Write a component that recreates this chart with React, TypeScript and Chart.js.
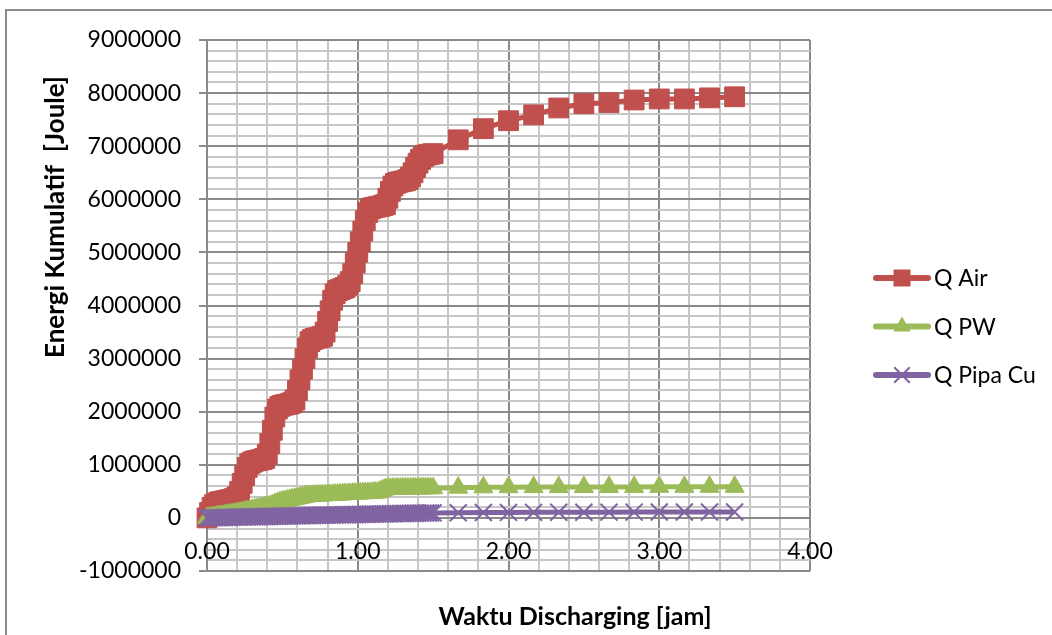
import React, { useEffect, useRef } from 'react';
import { Chart, registerables } from 'chart.js';

Chart.register(...registerables);

// time in minutes from start of discharging
const minutes = [
  0, 1, 2, 3, 4, 5, 6, 7, 8, 9,
  10, 11, 12, 13, 14, 15, 16, 17, 18, 19,
  20, 21, 22, 23, 24, 25, 26, 27, 28, 29,
  30, 31, 32, 33, 34, 35, 36, 37, 38, 39,
  40, 41, 42, 43, 44, 45, 46, 47, 48, 49,
  50, 51, 52, 53, 54, 55, 56, 57, 58, 59,
  60, 61, 62, 63, 64, 65, 66, 67, 68, 69,
  70, 71, 72, 73, 74, 75, 76, 77, 78, 79,
  80, 81, 82, 83, 84, 85, 86, 87, 88, 89,
  90, 100, 110, 120, 130, 140, 150, 160, 170, 180, 190, 200, 210,
];

const qAir = [
  0, 100000, 200000, 250000, 280000, 300000, 310000, 320000, 330000, 340000,
  350000, 370000, 400000, 500000, 650000, 800000, 950000, 1020000, 1050000, 1070000,
  1080000, 1090000, 1100000, 1120000, 1200000, 1400000, 1650000, 1900000, 2050000, 2100000,
  2120000, 2130000, 2140000, 2150000, 2170000, 2220000, 2400000, 2600000, 2800000, 3000000,
  3200000, 3320000, 3360000, 3380000, 3390000, 3400000, 3420000, 3500000, 3700000, 3900000,
  4100000, 4220000, 4280000, 4300000, 4320000, 4340000, 4380000, 4450000, 4600000, 4800000,
  5000000, 5200000, 5400000, 5600000, 5750000, 5820000, 5840000, 5850000, 5860000, 5870000,
  5880000, 5900000, 6020000, 6150000, 6250000, 6300000, 6320000, 6330000, 6340000, 6350000,
  6370000, 6420000, 6500000, 6600000, 6680000, 6750000, 6800000, 6830000, 6840000, 6850000,
  6860000, 7120000, 7330000, 7480000, 7590000, 7720000, 7800000, 7820000, 7870000, 7890000, 7890000, 7910000, 7930000,
];

const qPW = [
  0, 5000, 10000, 20000, 30000, 35000, 40000, 50000, 60000, 65000,
  70000, 80000, 90000, 100000, 110000, 120000, 130000, 140000, 150000, 160000,
  170000, 180000, 190000, 200000, 210000, 220000, 240000, 260000, 280000, 300000,
  310000, 320000, 330000, 340000, 350000, 360000, 370000, 380000, 390000, 400000,
  410000, 412000, 415000, 418000, 420000, 422000, 425000, 428000, 430000, 432000,
  435000, 438000, 440000, 442000, 445000, 448000, 450000, 452000, 455000, 458000,
  460000, 462000, 465000, 468000, 470000, 472000, 475000, 478000, 480000, 500000,
  520000, 540000, 550000, 550000, 552000, 552000, 554000, 554000, 555000, 555000,
  556000, 556000, 557000, 557000, 558000, 558000, 558000, 559000, 559000, 560000,
  560000, 570000, 575000, 578000, 580000, 580000, 582000, 583000, 584000, 585000, 585000, 586000, 586000,
];

const qPipaCu = [
  0, 1500, 2800, 4000, 5100, 6200, 7300, 8300, 9400, 10400,
  11500, 12500, 13600, 14600, 15700, 16700, 17800, 18800, 19900, 21000,
  22000, 23100, 24200, 25300, 26300, 27400, 28500, 29600, 30700, 31700,
  32800, 33900, 35000, 36000, 37100, 38200, 39300, 40300, 41400, 42500,
  43500, 44600, 45600, 46700, 47700, 48800, 49800, 50900, 51900, 53000,
  54000, 55100, 56100, 57200, 58200, 59200, 60300, 61300, 62300, 63400,
  64400, 65400, 66400, 67500, 68500, 69500, 70500, 71500, 72500, 73600,
  74600, 75600, 76600, 77600, 78600, 79600, 80600, 81600, 82600, 83500,
  84500, 85500, 86500, 87500, 88400, 89400, 90400, 91300, 92300, 93200,
  94200, 98000, 101000, 103000, 105000, 106000, 107000, 108000, 109000, 110000, 110000, 111000, 111000,
];

const seriesNames = ['Q Air', 'Q PW', 'Q Pipa Cu'];
const xTickValues = [0, 1, 2, 3, 4];
const xTickLabels = ['0.00', '1.00', '2.00', '3.00', '4.00'];
const xTitle = 'Waktu Discharging [jam]';
const yTitle = 'Energi Kumulatif  [Joule]';

const FONT = 'Lato, "Open Sans", sans-serif';
const MAJOR = '#8a8a8a';
const MINOR = '#c6c6c6';
const RED = '#c0504d';
const GREEN = '#9bbb59';
const PURPLE = '#8064a2';

function drawMarker(ctx: CanvasRenderingContext2D, style: string, x: number, y: number, r: number, color: string) {
  ctx.save();
  ctx.fillStyle = color;
  ctx.strokeStyle = color;
  if (style === 'rect') {
    const s = r * Math.SQRT1_2;
    ctx.fillRect(x - s, y - s, 2 * s, 2 * s);
  } else if (style === 'triangle') {
    ctx.beginPath();
    ctx.moveTo(x, y - r);
    ctx.lineTo(x + r * Math.sin(2 * Math.PI / 3), y - r * Math.cos(2 * Math.PI / 3));
    ctx.lineTo(x + r * Math.sin(4 * Math.PI / 3), y - r * Math.cos(4 * Math.PI / 3));
    ctx.closePath();
    ctx.fill();
  } else {
    const o = r * Math.SQRT1_2;
    ctx.lineWidth = 2;
    ctx.beginPath();
    ctx.moveTo(x - o, y - o);
    ctx.lineTo(x + o, y + o);
    ctx.moveTo(x - o, y + o);
    ctx.lineTo(x + o, y - o);
    ctx.stroke();
  }
  ctx.restore();
}

export default function App() {
  const ref = useRef<HTMLCanvasElement>(null);

  useEffect(() => {
    if (!ref.current) return;
    const toPts = (vals: number[]) => vals.map((v, i) => ({ x: minutes[i] / 60, y: v }));
    const isMajorX = (v: number) => Math.abs(v - Math.round(v)) < 1e-6;
    const isMajorY = (v: number) => Math.abs(v / 1e6 - Math.round(v / 1e6)) < 1e-9;

    const styles = [
      { color: RED, point: 'rect', r: 14 },
      { color: GREEN, point: 'triangle', r: 11 },
      { color: PURPLE, point: 'crossRot', r: 12 },
    ];

    const overlay = {
      id: 'excelOverlay',
      beforeDraw(chart: any) {
        const ctx = chart.ctx as CanvasRenderingContext2D;
        ctx.save();
        ctx.strokeStyle = '#8c8c8c';
        ctx.lineWidth = 2;
        ctx.strokeRect(6, 10, 1200, 800);
        ctx.restore();
      },
      afterDraw(chart: any) {
        const ctx = chart.ctx as CanvasRenderingContext2D;
        const xs = chart.scales.x;
        const ys = chart.scales.y;
        ctx.save();
        ctx.fillStyle = '#000';
        // x tick labels next to the horizontal axis (at y = 0)
        ctx.font = `23px ${FONT}`;
        ctx.textAlign = 'center';
        ctx.textBaseline = 'middle';
        const y0 = ys.getPixelForValue(0);
        xTickValues.forEach((v, i) => {
          ctx.fillText(xTickLabels[i], xs.getPixelForValue(v), y0 + 34);
        });
        // axis titles
        ctx.font = `bold 25px ${FONT}`;
        ctx.fillText(xTitle, 575, 617);
        ctx.save();
        ctx.translate(56, 217);
        ctx.rotate(-Math.PI / 2);
        ctx.font = `bold 26px ${FONT}`;
        ctx.fillText(yTitle, 0, 0);
        ctx.restore();
        // legend
        ctx.font = `23px ${FONT}`;
        ctx.textAlign = 'left';
        seriesNames.forEach((name, i) => {
          const ly = 278 + i * 48.5;
          const st = styles[i];
          ctx.save();
          ctx.strokeStyle = st.color;
          ctx.lineWidth = 6;
          ctx.lineCap = 'round';
          ctx.beginPath();
          ctx.moveTo(876, ly);
          ctx.lineTo(928, ly);
          ctx.stroke();
          ctx.restore();
          drawMarker(ctx, st.point, 902, ly, st.point === 'rect' ? 12 : st.r - 1, st.color);
          ctx.fillStyle = '#000';
          ctx.fillText(name, 934, ly + 1);
        });
        ctx.restore();
      },
    };

    const datasets = [qAir, qPW, qPipaCu].map((vals, i) => ({
      label: seriesNames[i],
      data: toPts(vals),
      borderColor: styles[i].color,
      backgroundColor: styles[i].color,
      pointBackgroundColor: styles[i].color,
      pointBorderColor: styles[i].color,
      pointBorderWidth: i === 2 ? 2 : 1,
      pointStyle: styles[i].point,
      pointRadius: styles[i].r,
      borderWidth: 5,
      tension: 0,
      clip: false as any,
      order: 3 - i,
    }));

    const chart = new Chart(ref.current, {
      type: 'line',
      data: { datasets },
      options: {
        animation: false,
        responsive: false,
        events: [],
        layout: { padding: { left: 0, top: 40, right: 242, bottom: 64 } },
        plugins: { legend: { display: false }, tooltip: { enabled: false } },
        scales: {
          x: {
            type: 'linear',
            min: 0,
            max: 4,
            ticks: { display: false, stepSize: 0.2, autoSkip: false },
            grid: {
              drawTicks: false,
              lineWidth: 2,
              color: (c: any) => (c.tick && isMajorX(c.tick.value) ? MAJOR : MINOR),
            },
            border: { display: false },
            afterFit: (s: any) => { s.height = 0; },
          },
          y: {
            type: 'linear',
            min: -1000000,
            max: 9000000,
            ticks: {
              stepSize: 200000,
              autoSkip: false,
              padding: 18,
              color: '#000',
              font: { family: FONT, size: 23 },
              callback: (v: any) => (isMajorY(Number(v)) ? String(Math.round(Number(v))) : ''),
            },
            grid: {
              lineWidth: 2,
              tickLength: 8,
              color: (c: any) => (c.tick && isMajorY(c.tick.value) ? MAJOR : MINOR),
              tickColor: (c: any) => (c.tick && isMajorY(c.tick.value) ? MAJOR : 'rgba(0,0,0,0)'),
            },
            border: { display: true, color: MAJOR, width: 2 },
            afterFit: (s: any) => { s.width = 207; },
          },
        },
      },
      plugins: [overlay],
    } as any);
    return () => chart.destroy();
  }, []);

  return (
    <div style={{ position: 'absolute', left: 0, top: 0, width: 1052, height: 635, overflow: 'hidden', background: '#fff' }}>
      <canvas ref={ref} width={1052} height={635} style={{ display: 'block' }} />
    </div>
  );
}
